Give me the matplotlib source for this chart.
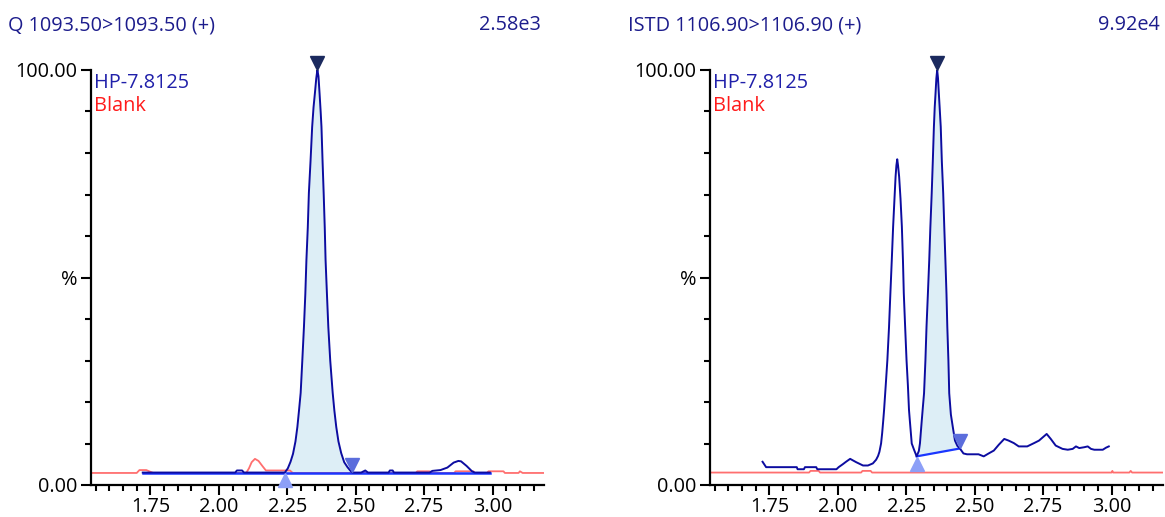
import numpy as np
import matplotlib
matplotlib.use("Agg")
import matplotlib.pyplot as plt
from matplotlib import transforms
from matplotlib.ticker import MultipleLocator, FixedLocator

plt.rcParams['font.family'] = ['Open Sans', 'DejaVu Sans']

# ---- panel headers ----
titles = ["Q 1093.50>1093.50 (+)", "ISTD 1106.90>1106.90 (+)"]
intensities = ["2.58e3", "9.92e4"]
sample_names = ["HP-7.8125", "Blank"]

# ---- Q channel (left) ----
q_hp_x = [1.722, 1.80, 1.90, 2.00, 2.060, 2.066, 2.085, 2.092, 2.20, 2.241,
          2.252, 2.262, 2.271, 2.280, 2.287, 2.293, 2.299, 2.305, 2.311, 2.316,
          2.320, 2.325, 2.329, 2.335, 2.341, 2.346, 2.351, 2.356, 2.360, 2.364,
          2.368, 2.372, 2.375, 2.379, 2.383, 2.387, 2.390, 2.395, 2.400, 2.407,
          2.416, 2.422, 2.429, 2.437, 2.447, 2.458, 2.470, 2.480, 2.488, 2.52,
          2.535, 2.545, 2.62, 2.625, 2.635, 2.64, 2.77, 2.78, 2.81, 2.835,
          2.858, 2.875, 2.885, 2.905, 2.925, 2.935, 2.99]
q_hp_y = [3.0, 3.0, 3.0, 3.0, 3.0, 3.5, 3.5, 3.0, 3.0, 3.0,
          4.0, 5.6, 7.5, 10.5, 14.0, 18.0, 22.2, 30.0, 38.1, 46.0,
          54.2, 62.0, 70.4, 78.0, 86.3, 91.0, 94.4, 98.0, 100.0, 98.5,
          94.4, 90.0, 86.3, 78.0, 70.4, 62.0, 54.2, 46.0, 38.1, 30.0,
          22.2, 18.0, 14.0, 10.5, 7.7, 5.5, 4.3, 3.5, 3.0, 3.0,
          3.5, 3.0, 3.0, 3.5, 3.5, 3.0, 3.0, 3.4, 3.6, 4.2,
          5.4, 5.8, 5.7, 4.6, 3.3, 3.0, 3.0]
q_blank_x = [1.533, 1.70, 1.71, 1.735, 1.76, 2.10, 2.11, 2.12, 2.132, 2.145,
             2.16, 2.172, 2.26, 2.27, 2.72, 2.725, 2.77, 2.775, 2.86, 2.865,
             2.93, 2.935, 2.98, 2.985, 3.04, 3.045, 3.095, 3.10, 3.11, 3.188]
q_blank_y = [2.9, 2.9, 3.6, 3.6, 2.9, 2.9, 4.0, 5.5, 6.3, 5.8,
             4.5, 3.5, 3.5, 2.9, 2.9, 3.3, 3.3, 2.9, 2.9, 3.3,
             3.3, 2.9, 2.9, 3.3, 3.3, 2.9, 2.9, 3.3, 2.9, 2.9]
q_int_x = [2.241, 2.488]
q_int_y = [3.0, 3.0]
q_peak = (2.360, 100.0)

# ---- ISTD channel (right) ----
istd_hp_x = [1.725, 1.738, 1.850, 1.853, 1.876, 1.880, 1.921, 1.925, 1.995, 2.003,
             2.018, 2.030, 2.045, 2.067, 2.092, 2.110, 2.128, 2.140, 2.147, 2.152,
             2.158, 2.162, 2.166, 2.169, 2.175, 2.181, 2.187, 2.192, 2.197, 2.202,
             2.207, 2.211, 2.214, 2.217, 2.220, 2.224, 2.229, 2.234, 2.238, 2.241,
             2.246, 2.251, 2.256, 2.260, 2.263, 2.270, 2.279, 2.288, 2.296, 2.300,
             2.306, 2.311, 2.315, 2.320, 2.324, 2.329, 2.334, 2.338, 2.343, 2.347,
             2.351, 2.354, 2.357, 2.360, 2.363, 2.366, 2.369, 2.372, 2.376, 2.380,
             2.385, 2.389, 2.393, 2.397, 2.400, 2.404, 2.407, 2.413, 2.420, 2.428,
             2.437, 2.446, 2.459, 2.472, 2.514, 2.533, 2.551, 2.570, 2.588, 2.608,
             2.624, 2.643, 2.661, 2.692, 2.717, 2.735, 2.763, 2.778, 2.796, 2.821,
             2.840, 2.858, 2.870, 2.882, 2.900, 2.913, 2.925, 2.937, 2.968, 2.980,
             2.990]
istd_hp_y = [5.6, 4.3, 4.3, 3.8, 3.8, 4.3, 4.3, 3.8, 3.8, 4.3,
             5.0, 5.6, 6.3, 5.5, 4.7, 4.7, 5.2, 6.1, 7.0, 8.0,
             10.0, 12.5, 15.6, 18.1, 24.0, 30.1, 38.0, 46.2, 54.0, 62.2,
             69.0, 74.3, 77.0, 78.5, 77.0, 74.3, 69.0, 62.2, 54.0, 46.2,
             38.0, 30.1, 24.0, 18.1, 15.6, 10.0, 8.4, 6.9, 8.2, 10.0,
             15.0, 19.0, 22.1, 30.0, 38.1, 46.0, 54.2, 62.0, 70.3, 78.0,
             86.3, 91.0, 94.4, 98.0, 100.0, 98.0, 94.4, 91.0, 86.3, 78.0,
             70.3, 62.0, 54.2, 46.0, 38.1, 30.0, 22.1, 17.0, 14.0, 10.7,
             9.4, 8.8, 7.6, 7.4, 7.4, 6.9, 7.6, 8.3, 9.7, 11.1,
             10.7, 10.1, 9.3, 9.3, 10.1, 10.7, 12.3, 11.1, 9.5, 8.7,
             8.5, 8.7, 9.3, 8.9, 9.1, 9.3, 8.7, 8.5, 8.5, 9.0,
             9.3]
istd_blank_x = [1.533, 1.895, 1.90, 1.93, 1.935, 2.085, 2.09, 2.12, 2.125, 3.00,
                3.003, 3.006, 3.065, 3.07, 3.075, 3.188]
istd_blank_y = [3.0, 3.0, 3.4, 3.4, 3.0, 3.0, 3.4, 3.4, 3.0, 3.0,
                3.4, 3.0, 3.0, 3.4, 3.0, 3.0]
istd_int_x = [2.288, 2.446]
istd_int_y = [6.9, 8.8]
istd_peak = (2.363, 100.0)

TRACE = "#0c0ca0"
BLANK = "#ff6f6f"
FILL = "#ddeef6"
BASE = "#1a36ff"
TXT = "#1c1c8c"
FS = 14.3

fig = plt.figure(figsize=(11.65, 5.17), dpi=100)
ax1 = fig.add_axes([91 / 1165, 32 / 517, 453 / 1165, 415 / 517])
ax2 = fig.add_axes([710 / 1165, 32 / 517, 453 / 1165, 415 / 517])


def draw_panel(ax, hp_x, hp_y, bl_x, bl_y, int_x, int_y, peak, flat_base=False):
    ax.plot(bl_x, bl_y, color=BLANK, lw=1.3, zorder=2)

    hx = np.array(hp_x)
    hy = np.array(hp_y)
    m = (hx >= int_x[0]) & (hx <= int_x[1])
    base = np.interp(hx[m], int_x, int_y)
    ax.fill_between(hx[m], base, hy[m], color=FILL, lw=0, zorder=1)
    if flat_base:
        # the flat trace sits on the integration baseline
        ax.plot([hp_x[0], hp_x[-1]], [int_y[0], int_y[0]], color=BASE, lw=1.8, zorder=3)
    else:
        ax.plot(int_x, int_y, color=BASE, lw=1.6, zorder=3)
    ax.plot(hx, hy, color=TRACE, lw=1.4, zorder=4)

    ms = 10.5
    up = transforms.offset_copy(ax.transData, fig=fig, x=0, y=ms / 2, units='points')
    dn = transforms.offset_copy(ax.transData, fig=fig, x=0, y=-ms / 2, units='points')
    ax.plot(int_x[0], int_y[0], marker='^', ms=ms, color="#8c9ff7", transform=dn,
            clip_on=False, zorder=5)
    ax.plot(int_x[1], int_y[1], marker='v', ms=ms, color="#5b6ddc", transform=up,
            clip_on=False, zorder=5)
    ax.plot(peak[0], peak[1], marker='v', ms=ms * 0.9, color="#1b2a5e",
            transform=transforms.offset_copy(ax.transData, fig=fig, x=0, y=ms * 0.45,
                                             units='points'),
            clip_on=False, zorder=5)

    ax.set_xlim(1.533, 3.188)
    ax.set_ylim(0, 100)
    for s in ['top', 'right']:
        ax.spines[s].set_visible(False)
    for s in ['left', 'bottom']:
        ax.spines[s].set_linewidth(1.6)
    ax.xaxis.set_major_locator(FixedLocator([1.75, 2.0, 2.25, 2.5, 2.75, 3.0]))
    ax.xaxis.set_minor_locator(MultipleLocator(0.05))
    ax.set_xticklabels(["1.75", "2.00", "2.25", "2.50", "2.75", "3.00"])
    ax.yaxis.set_major_locator(FixedLocator([0, 50, 100]))
    ax.yaxis.set_minor_locator(MultipleLocator(10))
    ax.set_yticklabels(["0.00", "%", "100.00"])
    ax.tick_params(which='major', length=7, width=1.5, labelsize=FS, pad=3)
    ax.tick_params(which='minor', length=4.5, width=1.5)
    ax.tick_params(axis='x', which='major', pad=1.5)

    ax.text(0.006, 0.968, sample_names[0], transform=ax.transAxes, color="#2020aa",
            fontsize=FS, va='center', ha='left')
    ax.text(0.006, 0.913, sample_names[1], transform=ax.transAxes, color="#ff1a1a",
            fontsize=FS, va='center', ha='left')


draw_panel(ax1, q_hp_x, q_hp_y, q_blank_x, q_blank_y, q_int_x, q_int_y, q_peak, flat_base=True)
draw_panel(ax2, istd_hp_x, istd_hp_y, istd_blank_x, istd_blank_y, istd_int_x, istd_int_y, istd_peak)

fig.text(8 / 1165, 1 - 25 / 517, titles[0], color=TXT, fontsize=FS, va='center', ha='left')
fig.text(541 / 1165, 1 - 25 / 517, intensities[0], color=TXT, fontsize=FS, va='center', ha='right')
fig.text(628 / 1165, 1 - 25 / 517, titles[1], color=TXT, fontsize=FS, va='center', ha='left')
fig.text(1160 / 1165, 1 - 25 / 517, intensities[1], color=TXT, fontsize=FS, va='center', ha='right')

fig.savefig("out.png", dpi=100)
